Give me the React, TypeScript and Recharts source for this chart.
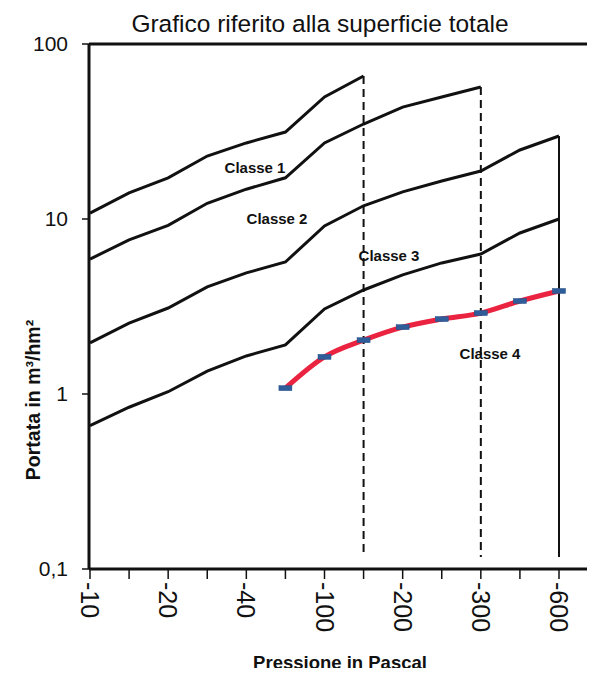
import React from 'react';
import {
  LineChart,
  Line,
  XAxis,
  YAxis,
  ReferenceLine,
} from 'recharts';

// pressure categories (only every other one is labelled on the axis)
const pressures = ['-10', '-15', '-20', '-30', '-40', '-50', '-100', '-150', '-200', '-250', '-300', '-400', '-600'];
const labelledTicks = ['-10', '-20', '-40', '-100', '-200', '-300', '-600'];

const classe1 = [10.8, 14.1, 17.2, 22.9, 27.2, 31.4, 49.8, 65.6, null, null, null, null, null];
const classe2 = [5.9, 7.6, 9.2, 12.3, 14.8, 17.2, 27.2, 34.9, 43.6, 49.8, 56.8, null, null];
const classe3 = [1.96, 2.54, 3.1, 4.09, 4.92, 5.68, 9.12, 11.9, 14.3, 16.5, 18.8, 24.8, 29.8];
const classe4 = [0.66, 0.84, 1.03, 1.35, 1.65, 1.91, 3.06, 3.93, 4.79, 5.61, 6.31, 8.32, 10.0];
const misura = [null, null, null, null, null, 1.08, 1.63, 2.03, 2.41, 2.68, 2.9, 3.4, 3.88];

const yTicks = [0.1, 1, 10, 100];
const dropEnd = 0.117;

const data = pressures.map((p, i) => ({
  p,
  c1: classe1[i],
  c2: classe2[i],
  c3: classe3[i],
  c4: classe4[i],
  m: misura[i],
}));

const FONT = '"Liberation Sans", Arial, sans-serif';

const XTick = (props: any) => {
  const { x, y, payload } = props;
  if (!labelledTicks.includes(payload.value)) return null;
  return (
    <text
      x={x}
      y={y}
      transform={`rotate(90, ${x}, ${y})`}
      textAnchor="start"
      dominantBaseline="central"
      fontSize={25}
      fontFamily={FONT}
      fill="#111"
    >
      {payload.value}
    </text>
  );
};

const BlueMark = (props: any) => {
  const { cx, cy } = props;
  if (cx == null || cy == null) return null;
  return <rect x={cx - 6.5} y={cy - 2.5} width={13} height={5} fill="#2f5d9a" stroke="#24508a" strokeWidth={0.5} />;
};

export default function App() {
  return (
    <div style={{ position: 'relative', width: 595, height: 676, margin: -8, background: '#fff' }}>
      <LineChart
        width={595}
        height={676}
        data={data}
        margin={{ top: 44, right: 0, bottom: 0, left: 0 }}
      >
        <XAxis
          dataKey="p"
          interval={0}
          height={107}
          padding={{ left: 1, right: 34 }}
          tick={<XTick />}
          tickSize={10}
          tickMargin={3}
          axisLine={{ stroke: '#111', strokeWidth: 3 }}
          tickLine={{ stroke: '#111', strokeWidth: 1.5 }}
        />
        <YAxis
          yAxisId="l"
          scale="log"
          domain={[0.1, 100]}
          ticks={yTicks}
          allowDataOverflow
          width={89}
          tickSize={7}
          tickMargin={14}
          tickFormatter={(v: number) => String(v).replace('.', ',')}
          tick={{ fontSize: 21, fill: '#111', fontFamily: FONT }}
          axisLine={{ stroke: '#111', strokeWidth: 3 }}
          tickLine={{ stroke: '#111', strokeWidth: 1.5 }}
        />
        <YAxis
          yAxisId="r"
          orientation="right"
          width={2}
          tick={false}
          tickLine={false}
          axisLine={{ stroke: '#bbb', strokeWidth: 1 }}
        />
        <ReferenceLine yAxisId="l" y={100} stroke="#111" strokeWidth={3} />
        <ReferenceLine
          yAxisId="l"
          segment={[{ x: '-150', y: classe1[7] as number }, { x: '-150', y: dropEnd }]}
          stroke="#111"
          strokeWidth={2}
          strokeDasharray="8 5"
        />
        <ReferenceLine
          yAxisId="l"
          segment={[{ x: '-300', y: classe2[10] as number }, { x: '-300', y: dropEnd }]}
          stroke="#111"
          strokeWidth={2}
          strokeDasharray="8 5"
        />
        <ReferenceLine
          yAxisId="l"
          segment={[{ x: '-600', y: classe3[12] }, { x: '-600', y: dropEnd }]}
          stroke="#111"
          strokeWidth={2}
        />
        {(['c1', 'c2', 'c3', 'c4'] as const).map((k) => (
          <Line
            key={k}
            yAxisId="l"
            dataKey={k}
            stroke="#111"
            strokeWidth={3}
            dot={false}
            type="linear"
            isAnimationActive={false}
          />
        ))}
        <Line
          yAxisId="l"
          dataKey="m"
          stroke="#ea2440"
          strokeWidth={5}
          dot={<BlueMark />}
          type="monotone"
          isAnimationActive={false}
        />
        <text x={320} y={32} textAnchor="middle" fontSize={24.5} fontFamily={FONT} fill="#111">
          Grafico riferito alla superficie totale
        </text>
        <text
          x={40}
          y={400}
          transform="rotate(-90, 40, 400)"
          textAnchor="middle"
          fontSize={19.5}
          fontWeight="bold"
          fontFamily={FONT}
          fill="#111"
        >
          Portata in m³/hm²
        </text>
        <text x={340} y={669} textAnchor="middle" fontSize={18.5} fontWeight="bold" fontFamily={FONT} fill="#111">
          Pressione in Pascal
        </text>
        <text x={255} y={173} textAnchor="middle" fontSize={15} fontWeight="bold" fontFamily={FONT} fill="#111">
          Classe 1
        </text>
        <text x={277} y={224} textAnchor="middle" fontSize={15} fontWeight="bold" fontFamily={FONT} fill="#111">
          Classe 2
        </text>
        <text x={389} y={261} textAnchor="middle" fontSize={15} fontWeight="bold" fontFamily={FONT} fill="#111">
          Classe 3
        </text>
        <text x={490} y={359} textAnchor="middle" fontSize={15} fontWeight="bold" fontFamily={FONT} fill="#111">
          Classe 4
        </text>
      </LineChart>
    </div>
  );
}
